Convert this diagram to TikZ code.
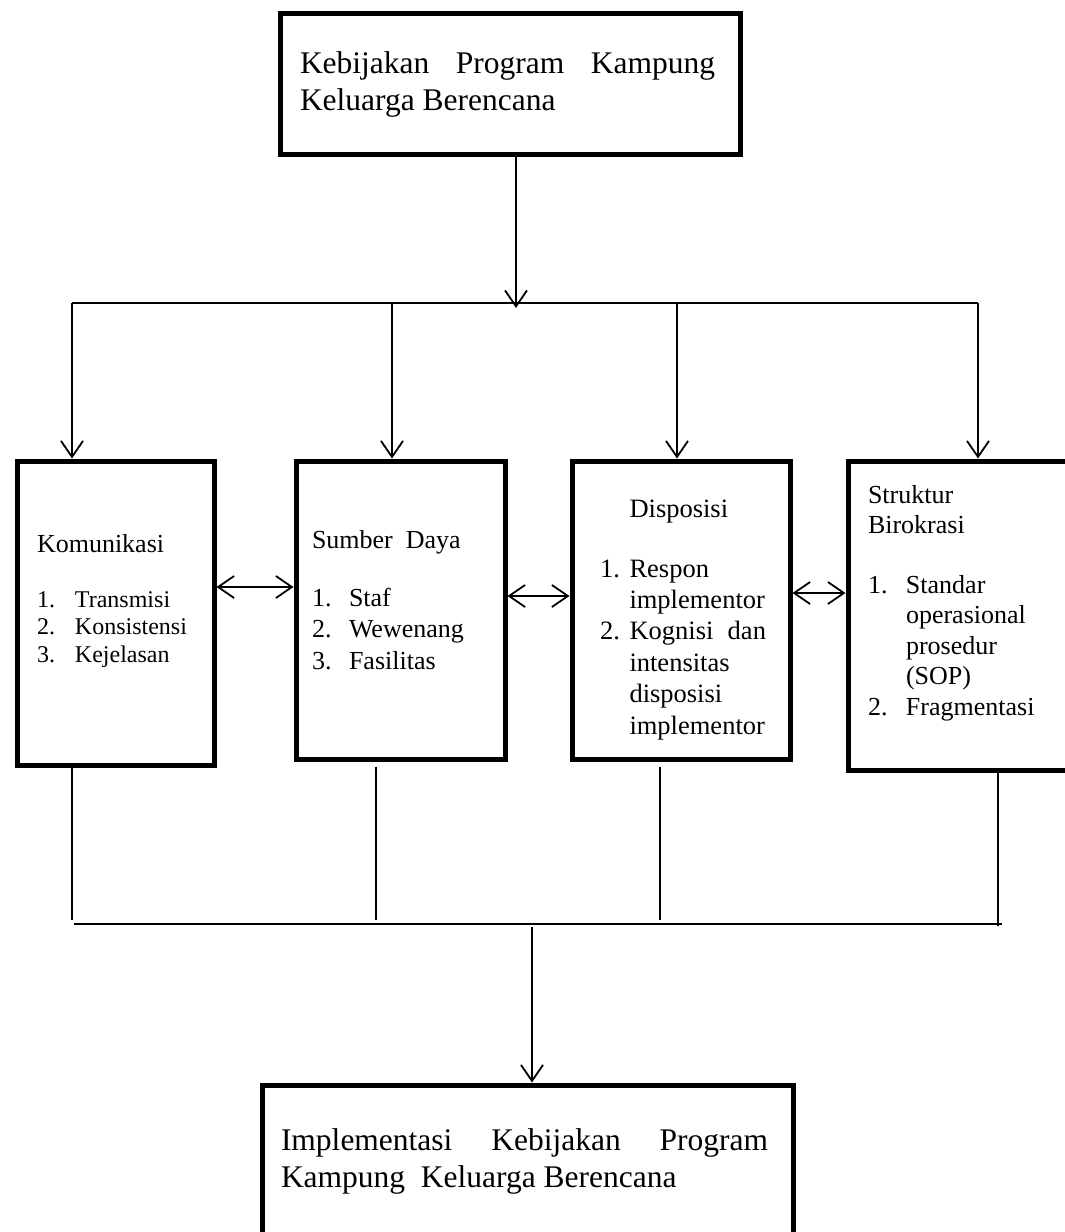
\documentclass[tikz,border=0pt]{standalone}
\usepackage{fontspec}
\setmainfont{Liberation Serif}
\usetikzlibrary{arrows.meta}
\newcommand{\itm}[2]{\makebox[#1][l]{#2}}
\begin{document}
\begin{tikzpicture}[x=1pt,y=-1pt,
  box/.style={draw, line width=5pt, inner sep=0pt, anchor=north west},
  conn/.style={line width=1.8pt},
  txt/.style={anchor=base west, inner sep=0pt, outer sep=0pt},
  vtip/.tip={Straight Barb[length=16pt,width=22pt]}]
\useasboundingbox (0,0) rectangle (1065,1232);
\clip (0,0) rectangle (1065,1232);
\fill[white] (0,0) rectangle (1065,1232);

% boxes
\node[box, minimum width=460pt, minimum height=141pt] (top) at (277.5,10.5) {};
\node[box, minimum width=197pt, minimum height=304pt] (b1) at (14.5,458.5) {};
\node[box, minimum width=209pt, minimum height=298pt] (b2) at (293.5,458.5) {};
\node[box, minimum width=218pt, minimum height=298pt] (b3) at (569.5,458.5) {};
\node[box, minimum width=229.5pt, minimum height=309pt] (b4) at (845.5,458.5) {};
\node[box, minimum width=531pt, minimum height=170pt] (bot) at (259.5,1082.5) {};

% texts
\node[txt, font=\fontsize{31.5}{37}\selectfont] (ttop) at (300,73)
  {\parbox[t]{430pt}{\makebox[415pt]{Kebijakan\hfill Program\hfill Kampung}\\Keluarga Berencana}};

\node[txt, font=\fontsize{26}{30}\selectfont] (h1) at (37,552) {Komunikasi};
\node[txt, font=\fontsize{24}{27.5}\selectfont] (l1) at (37,607)
  {\parbox[t]{170pt}{\itm{38pt}{1.}Transmisi\\\itm{38pt}{2.}Konsistensi\\\itm{38pt}{3.}Kejelasan}};

\node[txt, font=\fontsize{26}{31}\selectfont] (h2) at (312,548) {Sumber\ \ Daya};
\node[txt, font=\fontsize{26}{31.5}\selectfont] (l2) at (312,606)
  {\parbox[t]{180pt}{\itm{37pt}{1.}Staf\\\itm{37pt}{2.}Wewenang\\\itm{37pt}{3.}Fasilitas}};

\node[txt, font=\fontsize{26.5}{31.4}\selectfont] (h3) at (629.5,517) {Disposisi};
\node[txt, font=\fontsize{26.5}{31.4}\selectfont] (l3) at (600,577)
  {\parbox[t]{185pt}{\itm{29.5pt}{1.}Respon\\\hspace*{29.5pt}implementor\\\itm{29.5pt}{2.}\makebox[136.5pt]{Kognisi\hfill dan}\\\hspace*{29.5pt}intensitas\\\hspace*{29.5pt}disposisi\\\hspace*{29.5pt}implementor}};

\node[txt, font=\fontsize{26}{30}\selectfont] (h4) at (868,503)
  {\parbox[t]{180pt}{Struktur\\Birokrasi}};
\node[txt, font=\fontsize{26}{30.5}\selectfont] (l4) at (868,593)
  {\parbox[t]{190pt}{\itm{38pt}{1.}Standar\\\hspace*{38pt}operasional\\\hspace*{38pt}prosedur\\\hspace*{38pt}(SOP)\\\itm{38pt}{2.}Fragmentasi}};

\node[txt, font=\fontsize{31.5}{37}\selectfont] (tbot) at (281,1150)
  {\parbox[t]{500pt}{\makebox[487pt]{Implementasi\hfill Kebijakan\hfill Program}\\Kampung\ \ Keluarga Berencana}};

% coordinates
\coordinate (jt) at (516,308);
\coordinate (d1) at (72,303);
\coordinate (d2) at (392,303);
\coordinate (d3) at (677,303);
\coordinate (d4) at (978,303);
\coordinate (a12) at (0,587);
\coordinate (a23) at (0,596);
\coordinate (a34) at (0,593);
\coordinate (v1) at (72,920);
\coordinate (v2) at (376,920);
\coordinate (v3) at (660,920);
\coordinate (v4) at (998,926);
\coordinate (hl) at (74,924);
\coordinate (hr) at (1002,924);
\coordinate (bs) at (532,927);

% connectors
\draw[conn,-vtip] (jt |- top.south) -- (jt);
\draw[conn] (d1) -- (d4);
\draw[conn,-vtip] (d1) -- (d1 |- b1.north);
\draw[conn,-vtip] (d2) -- (d2 |- b2.north);
\draw[conn,-vtip] (d3) -- (d3 |- b3.north);
\draw[conn,-vtip] (d4) -- (d4 |- b4.north);
\draw[conn,vtip-vtip] (b1.east |- a12) -- (b2.west |- a12);
\draw[conn,vtip-vtip] (b2.east |- a23) -- (b3.west |- a23);
\draw[conn,vtip-vtip] (b3.east |- a34) -- (b4.west |- a34);
\draw[conn] (v1 |- b1.south) -- (v1);
\draw[conn,shorten <=5pt] (v2 |- b2.south) -- (v2);
\draw[conn,shorten <=5pt] (v3 |- b3.south) -- (v3);
\draw[conn] (v4 |- b4.south) -- (v4);
\draw[conn] (hl) -- (hr);
\draw[conn,-vtip] (bs) -- (bs |- bot.north);
\end{tikzpicture}
\end{document}
